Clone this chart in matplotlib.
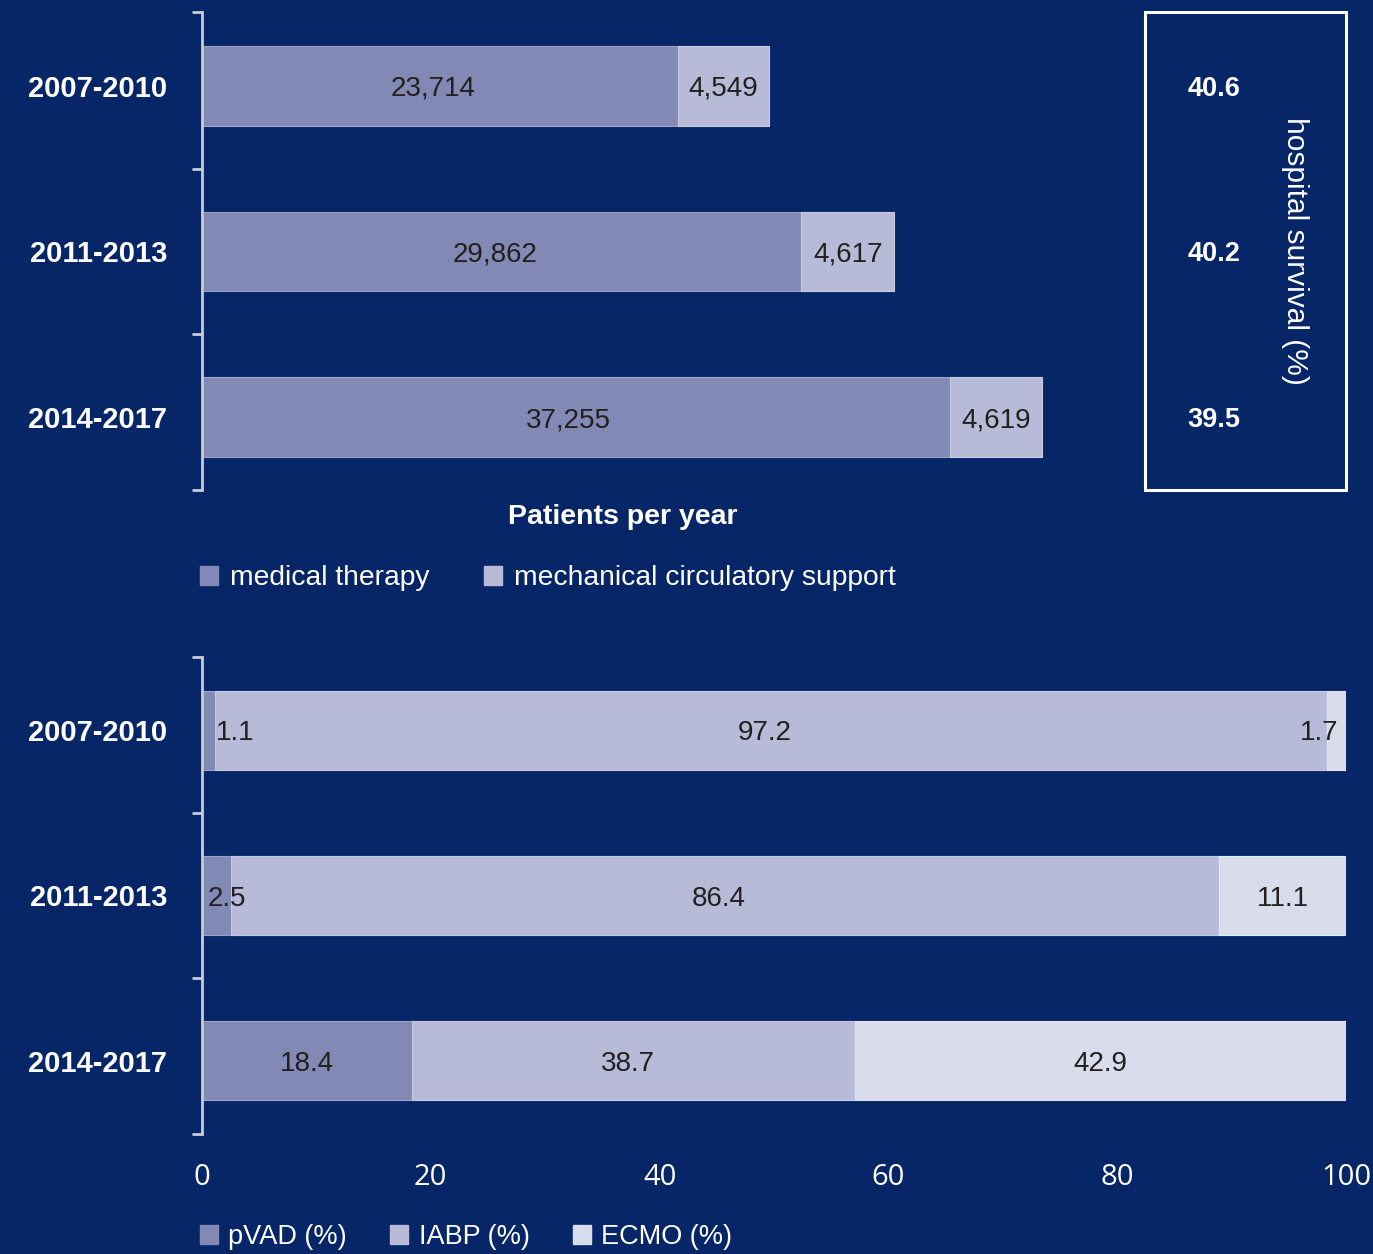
import numpy as np
import matplotlib
matplotlib.use('Agg')
import matplotlib.pyplot as plt
from matplotlib.patches import Patch, Rectangle
from matplotlib.transforms import blended_transform_factory

# periods and values
periods = ['2007-2010', '2011-2013', '2014-2017']
medical = [23714, 29862, 37255]
mcs = [4549, 4617, 4619]
survival = [40.6, 40.2, 39.5]

pvad = [1.1, 2.5, 18.4]
iabp = [97.2, 86.4, 38.7]
ecmo = [1.7, 11.1, 42.9]

bg = '#062668'
c_dark = '#8189b4'
c_mid = '#b7bbd7'
c_light = '#d9dcea'
txt = '#231f20'
spine_c = '#c9cbd6'

plt.rcParams['font.family'] = ['Liberation Sans', 'DejaVu Sans']

fig = plt.figure(figsize=(13.73, 12.54), dpi=100, facecolor=bg)

L = 202 / 1373.
W = 1144 / 1373.
ax1 = fig.add_axes([L, 1 - 490 / 1254., W, 478 / 1254.])
ax2 = fig.add_axes([L, 1 - 1134 / 1254., W, 477 / 1254.])

ypos = np.arange(len(periods))
h = 0.483


def style_axis(ax, top, bottom):
    ax.set_facecolor(bg)
    for s in ['top', 'right', 'bottom']:
        ax.spines[s].set_visible(False)
    ax.spines['left'].set_color(spine_c)
    ax.spines['left'].set_linewidth(2)
    ax.set_ylim(bottom, top)
    ax.set_yticks(ypos)
    ax.set_yticklabels(periods, fontsize=21, fontweight='bold', color='white')
    ax.tick_params(axis='y', which='major', length=0, pad=25)
    ax.set_yticks([top, 0.5, 1.5, bottom], minor=True)
    ax.tick_params(axis='y', which='minor', length=7, width=2, color=spine_c)


# top chart: patients per year
style_axis(ax1, -0.447, 2.441)
ax1.set_xlim(0, 57000)
ax1.barh(ypos, medical, height=h, color=c_dark, edgecolor='#9aa2c8', linewidth=0.8)
ax1.barh(ypos, mcs, left=medical, height=h, color=c_mid, edgecolor='#c8cbe0', linewidth=0.8)
for i in range(len(periods)):
    ax1.text(medical[i] / 2 - 350, i, f'{medical[i]:,}', ha='center', va='center_baseline', fontsize=20, color=txt)
    ax1.text(medical[i] + mcs[i] / 2, i, f'{mcs[i]:,}', ha='center', va='center_baseline', fontsize=20, color=txt)
ax1.set_xticks([])

# survival box on the right
box = Rectangle((1145 / 1373., 1 - 490 / 1254.), 201 / 1373., 478 / 1254., transform=fig.transFigure,
                fill=False, edgecolor='white', linewidth=2.2)
fig.patches.append(box)
surv_tr = blended_transform_factory(fig.transFigure, ax1.transData)
for i, v in enumerate(survival):
    ax1.text(1214 / 1373., i, f'{v}', transform=surv_tr, ha='center', va='center_baseline',
             fontsize=19.5, fontweight='bold', color='white')
fig.text(1295 / 1373., 1 - 251 / 1254., 'hospital survival (%)', rotation=-90, ha='center', va='center',
         fontsize=21.5, color='white')

fig.text(623 / 1373., 1 - 517 / 1254., 'Patients per year', ha='center', va='center', fontsize=20.5,
         fontweight='bold', color='white')

fig.legend(handles=[Patch(color=c_dark, label='medical therapy'),
                    Patch(color=c_mid, label='mechanical circulatory support')],
           loc='center left', bbox_to_anchor=(200 / 1373., 1 - 578 / 1254.), ncol=2, frameon=False,
           fontsize=20.3, handlelength=0.65, handleheight=0.65, handletextpad=0.4, columnspacing=1.95,
           borderpad=0, borderaxespad=0, labelcolor='white')

# bottom chart: device shares
style_axis(ax2, -0.445, 2.445)
ax2.set_xlim(0, 100)
ax2.barh(ypos, pvad, height=h, color=c_dark, edgecolor='#9aa2c8', linewidth=0.8)
left2 = np.array(pvad)
ax2.barh(ypos, iabp, left=left2, height=h, color=c_mid, edgecolor='#c8cbe0', linewidth=0.8)
left3 = left2 + np.array(iabp)
ax2.barh(ypos, ecmo, left=left3, height=h, color=c_light, edgecolor='#e4e6f0', linewidth=0.8)
for i in range(len(periods)):
    if pvad[i] < 2:
        ax2.text(pvad[i] + 0.1, i, f'{pvad[i]}', ha='left', va='center_baseline', fontsize=20, color=txt)
    elif pvad[i] < 5:
        ax2.text(0.5, i, f'{pvad[i]}', ha='left', va='center_baseline', fontsize=20, color=txt)
    else:
        ax2.text(pvad[i] / 2, i, f'{pvad[i]}', ha='center', va='center_baseline', fontsize=20, color=txt)
    ax2.text(left2[i] + iabp[i] / 2 - 0.5, i, f'{iabp[i]}', ha='center', va='center_baseline', fontsize=20, color=txt)
    if ecmo[i] < 5:
        ax2.text(100 - 0.7, i, f'{ecmo[i]}', ha='right', va='center_baseline', fontsize=20, color=txt)
    else:
        ax2.text(left3[i] + ecmo[i] / 2, i, f'{ecmo[i]}', ha='center', va='center_baseline', fontsize=20, color=txt)

ax2.set_xticks([0, 20, 40, 60, 80, 100])
ax2.tick_params(axis='x', length=0, pad=21, labelsize=21, labelcolor='white')
for lab in ax2.get_xticklabels():
    lab.set_fontfamily(['Open Sans', 'DejaVu Sans'])

fig.legend(handles=[Patch(color=c_dark, label='pVAD (%)'),
                    Patch(color=c_mid, label='IABP (%)'),
                    Patch(color=c_light, label='ECMO (%)')],
           loc='center left', bbox_to_anchor=(200 / 1373., 1 - 1237 / 1254.), ncol=3, frameon=False,
           fontsize=19.5, handlelength=0.65, handleheight=0.65, handletextpad=0.4, columnspacing=1.6,
           borderpad=0, borderaxespad=0, labelcolor='white')

fig.savefig('out.png', dpi=100, facecolor=bg)
